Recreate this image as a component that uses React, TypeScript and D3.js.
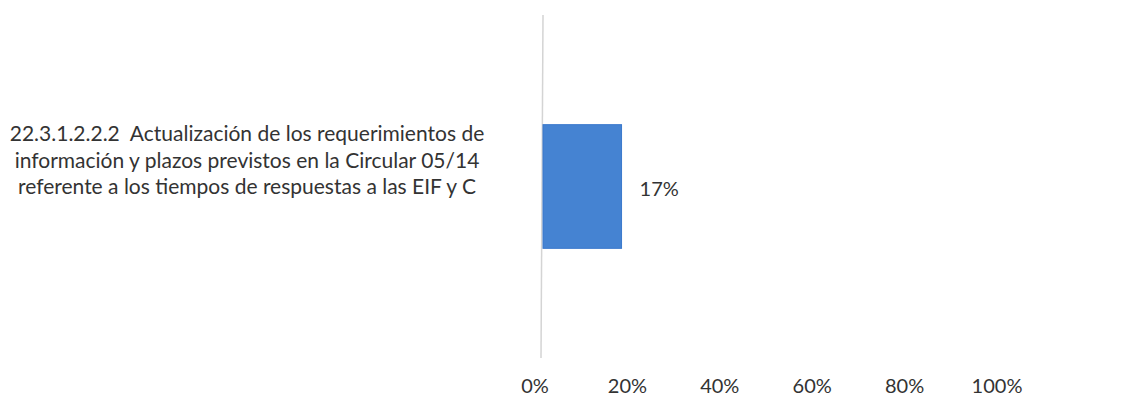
import React from "react";
import * as d3 from "d3";

const categories = [
  "22.3.1.2.2.2\u00a0\u00a0Actualización de los requerimientos de|información y plazos previstos en la Circular 05/14|referente a los tiempos de respuestas a las EIF y C",
];
const values = [0.17];
const tickValues = [0, 0.2, 0.4, 0.6, 0.8, 1.0];

const W = 1122;
const H = 408;
const FONT = "Lato, 'Open Sans', sans-serif";
const TEXT = "#333333";

export default function App() {
  const x = d3.scaleLinear().domain([0, 1]).range([543, 1005]);
  const y = d3.scaleBand().domain(categories).range([15, 358]).padding(0.47);
  const fmt = d3.format(".0%");

  return (
    <svg
      width={W}
      height={H}
      style={{ position: "absolute", left: 0, top: 0, background: "#fff" }}
    >
      <line x1={x(0)} x2={x(0) - 2} y1={15} y2={358} stroke="#d4d4d4" strokeWidth={1.5} />
      {categories.map((c, i) => (
        <g key={c}>
          <rect
            x={x(0)}
            y={y(c)}
            width={x(values[i]) - x(0)}
            height={y.bandwidth()}
            fill="#4583d2"
            stroke="#3a78cc"
            strokeWidth={1}
          />
          <text
            x={x(values[i]) + 18}
            y={(y(c) as number) + y.bandwidth() / 2 + 4}
            dominantBaseline="middle"
            fontFamily={FONT}
            fontSize={20}
            fill={TEXT}
          >
            {fmt(values[i])}
          </text>
          <text
            x={247}
            y={136}
            textAnchor="middle"
            fontFamily={FONT}
            fontSize={21}
            fill={TEXT}
          >
            {c.split("|").map((line, j) => (
              <tspan key={j} x={247} dy={j === 0 ? 0 : 26.5} dominantBaseline="middle">
                {line}
              </tspan>
            ))}
          </text>
        </g>
      ))}
      {tickValues.map((t) => (
        <text
          key={t}
          x={x(t) - 8}
          y={393}
          textAnchor="middle"
          fontFamily={FONT}
          fontSize={20}
          fill={TEXT}
        >
          {fmt(t)}
        </text>
      ))}
    </svg>
  );
}
